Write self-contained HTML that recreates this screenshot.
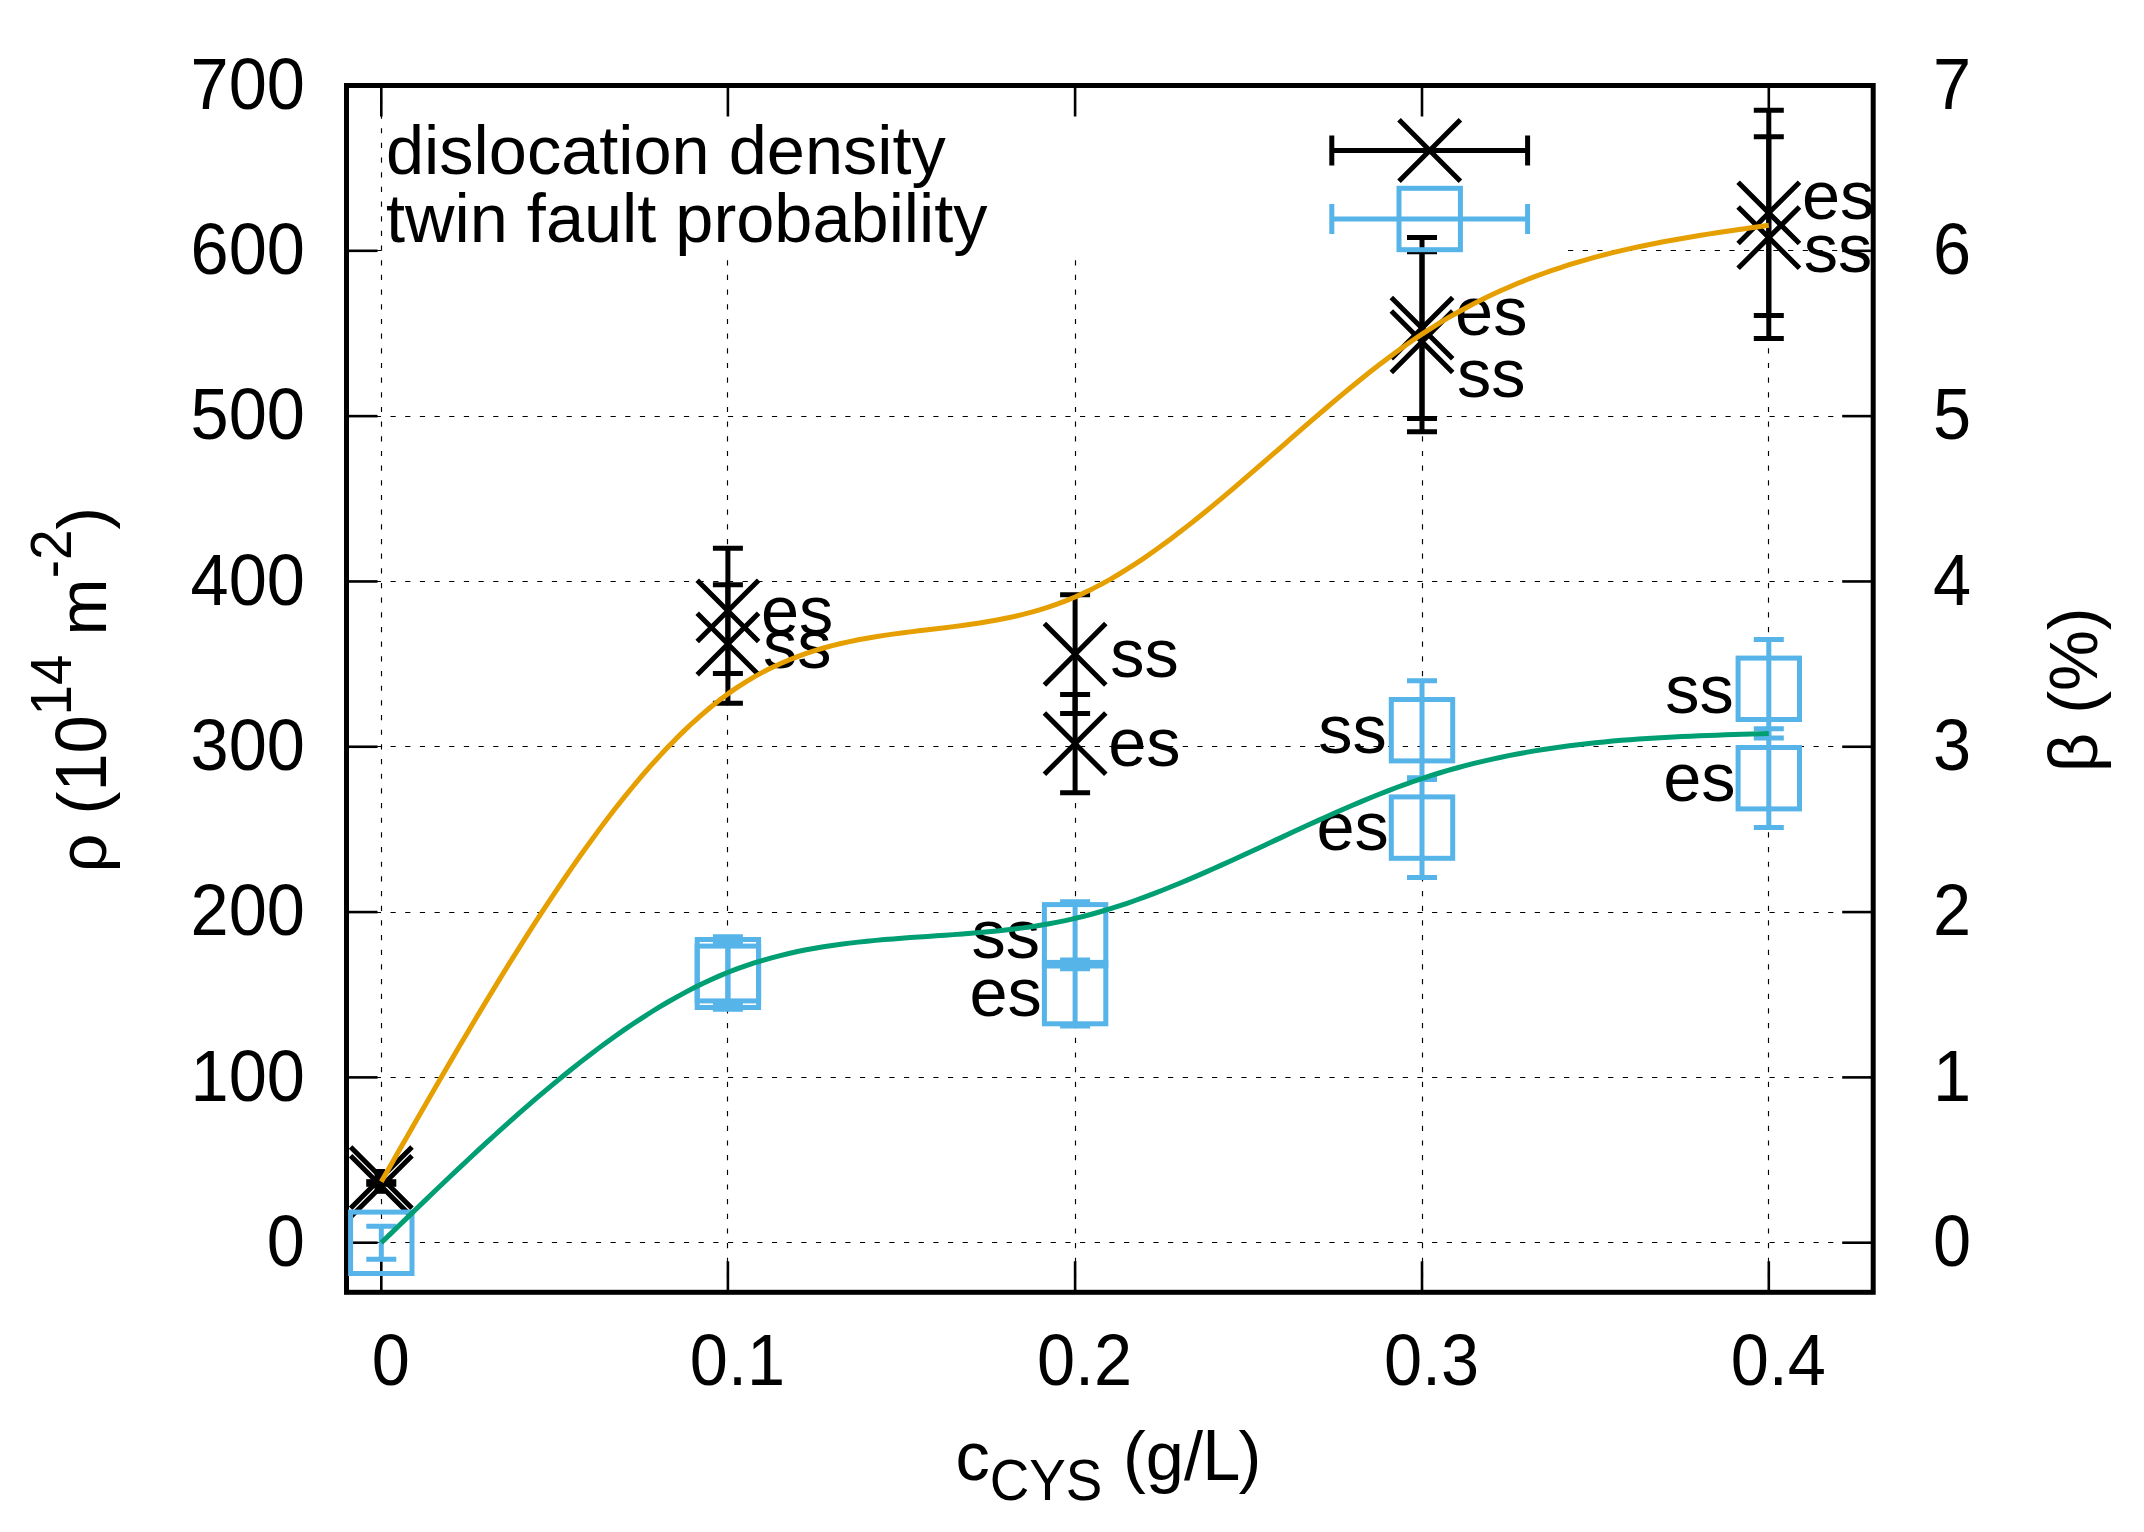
<!DOCTYPE html>
<html><head><meta charset="utf-8"><title>plot</title>
<style>html,body{margin:0;padding:0;background:#fff;}svg{display:block;}</style>
</head><body>
<svg width="2144" height="1532" viewBox="0 0 2144 1532" font-family='"Liberation Sans", "DejaVu Sans", sans-serif' font-size="68.5" fill="#000">
<rect x="0" y="0" width="2144" height="1532" fill="#fff"/>
<defs><clipPath id="pc"><rect x="346.5" y="85.5" width="1526.7" height="1206.8"/></clipPath></defs>
<g stroke="#000" stroke-width="1.15" stroke-dasharray="5.2 9.47" fill="none"><line x1="346.5" y1="1242.5" x2="1873.2" y2="1242.5"/><line x1="346.5" y1="1077.5" x2="1873.2" y2="1077.5"/><line x1="346.5" y1="912.5" x2="1873.2" y2="912.5"/><line x1="346.5" y1="746.5" x2="1873.2" y2="746.5"/><line x1="346.5" y1="581.5" x2="1873.2" y2="581.5"/><line x1="346.5" y1="416.5" x2="1873.2" y2="416.5"/><line x1="346.5" y1="250.5" x2="382" y2="250.5"/><line x1="1568" y1="250.5" x2="1873.2" y2="250.5"/><line x1="381.5" y1="1292.3" x2="381.5" y2="85.5"/><line x1="727.5" y1="1292.3" x2="727.5" y2="256"/><line x1="1075.5" y1="1292.3" x2="1075.5" y2="256"/><line x1="1422.5" y1="1292.3" x2="1422.5" y2="256"/><line x1="1768.5" y1="1292.3" x2="1768.5" y2="256"/></g>
<g stroke="#000" stroke-width="2.6"><line x1="346.5" y1="1242.71" x2="377.5" y2="1242.71"/><line x1="1873.2" y1="1242.71" x2="1842.2" y2="1242.71"/><line x1="346.5" y1="1077.39" x2="377.5" y2="1077.39"/><line x1="1873.2" y1="1077.39" x2="1842.2" y2="1077.39"/><line x1="346.5" y1="912.08" x2="377.5" y2="912.08"/><line x1="1873.2" y1="912.08" x2="1842.2" y2="912.08"/><line x1="346.5" y1="746.76" x2="377.5" y2="746.76"/><line x1="1873.2" y1="746.76" x2="1842.2" y2="746.76"/><line x1="346.5" y1="581.45" x2="377.5" y2="581.45"/><line x1="1873.2" y1="581.45" x2="1842.2" y2="581.45"/><line x1="346.5" y1="416.13" x2="377.5" y2="416.13"/><line x1="1873.2" y1="416.13" x2="1842.2" y2="416.13"/><line x1="346.5" y1="250.82" x2="377.5" y2="250.82"/><line x1="1873.2" y1="250.82" x2="1842.2" y2="250.82"/><line x1="346.5" y1="85.50" x2="377.5" y2="85.50"/><line x1="1873.2" y1="85.50" x2="1842.2" y2="85.50"/><line x1="381.30" y1="1292.3" x2="381.30" y2="1261.3"/><line x1="381.30" y1="85.5" x2="381.30" y2="116.5"/><line x1="727.90" y1="1292.3" x2="727.90" y2="1261.3"/><line x1="727.90" y1="85.5" x2="727.90" y2="116.5"/><line x1="1075.10" y1="1292.3" x2="1075.10" y2="1261.3"/><line x1="1075.10" y1="85.5" x2="1075.10" y2="116.5"/><line x1="1422.00" y1="1292.3" x2="1422.00" y2="1261.3"/><line x1="1422.00" y1="85.5" x2="1422.00" y2="116.5"/><line x1="1768.80" y1="1292.3" x2="1768.80" y2="1261.3"/><line x1="1768.80" y1="85.5" x2="1768.80" y2="116.5"/></g>
<rect x="346.5" y="85.5" width="1526.7" height="1206.8" fill="none" stroke="#000" stroke-width="5.0"/>
<text transform="translate(304.9,1265.91) scale(1,1.05)" text-anchor="end">0</text>
<text transform="translate(1933.1,1265.91) scale(1,1.05)">0</text>
<text transform="translate(304.9,1100.59) scale(1,1.05)" text-anchor="end">100</text>
<text transform="translate(1933.1,1100.59) scale(1,1.05)">1</text>
<text transform="translate(304.9,935.28) scale(1,1.05)" text-anchor="end">200</text>
<text transform="translate(1933.1,935.28) scale(1,1.05)">2</text>
<text transform="translate(304.9,769.96) scale(1,1.05)" text-anchor="end">300</text>
<text transform="translate(1933.1,769.96) scale(1,1.05)">3</text>
<text transform="translate(304.9,604.65) scale(1,1.05)" text-anchor="end">400</text>
<text transform="translate(1933.1,604.65) scale(1,1.05)">4</text>
<text transform="translate(304.9,439.33) scale(1,1.05)" text-anchor="end">500</text>
<text transform="translate(1933.1,439.33) scale(1,1.05)">5</text>
<text transform="translate(304.9,274.02) scale(1,1.05)" text-anchor="end">600</text>
<text transform="translate(1933.1,274.02) scale(1,1.05)">6</text>
<text transform="translate(304.9,108.70) scale(1,1.05)" text-anchor="end">700</text>
<text transform="translate(1933.1,108.70) scale(1,1.05)">7</text>
<text transform="translate(390.80,1385.0) scale(1,1.05)" text-anchor="middle">0</text>
<text transform="translate(737.40,1385.0) scale(1,1.05)" text-anchor="middle">0.1</text>
<text transform="translate(1084.60,1385.0) scale(1,1.05)" text-anchor="middle">0.2</text>
<text transform="translate(1431.50,1385.0) scale(1,1.05)" text-anchor="middle">0.3</text>
<text transform="translate(1778.30,1385.0) scale(1,1.05)" text-anchor="middle">0.4</text>
<text x="955.50" y="1480.30">c</text>
<text transform="translate(989.75,1500.00) scale(1,1.05)" font-size="54.80">CYS</text>
<text x="1123.00" y="1480.30">(g/</text>
<text transform="translate(1202.30,1480.30) scale(1,1.055)">L</text>
<text x="1238.50" y="1480.30">)</text>
<g transform="translate(106.2,689.6) rotate(-90)">
<text x="-182.80" y="0.00">ρ (</text>
<text transform="translate(-101.99,0.00) scale(1,1.05)">10</text>
<text transform="translate(-25.79,-35.10) scale(1,1.05)" font-size="54.80">14</text>
<text x="54.21" y="0.00">m</text>
<text transform="translate(111.25,-35.10) scale(1,1.05)" font-size="54.80">-2</text>
<text x="159.98" y="0.00">)</text>
</g>
<text transform="translate(2096.5,689.8) rotate(-90)" text-anchor="middle">β (%)</text>
<g clip-path="url(#pc)">
<g stroke="#000" stroke-width="5.0" fill="none"><path d="M727.90 548.20L727.90 673.60M712.90 548.20L742.90 548.20M712.90 673.60L742.90 673.60"/><path d="M727.90 584.70L727.90 703.30M712.90 584.70L742.90 584.70M712.90 703.30L742.90 703.30"/><path d="M1075.10 594.80L1075.10 713.60M1060.10 594.80L1090.10 594.80M1060.10 713.60L1090.10 713.60"/><path d="M1075.10 694.40L1075.10 792.80M1060.10 694.40L1090.10 694.40M1060.10 792.80L1090.10 792.80"/><path d="M1422.00 237.60L1422.00 418.60M1407.00 237.60L1437.00 237.60M1407.00 418.60L1437.00 418.60"/><path d="M1422.00 251.80L1422.00 431.80M1407.00 251.80L1437.00 251.80M1407.00 431.80L1437.00 431.80"/><path d="M1768.80 110.30L1768.80 315.50M1753.80 110.30L1783.80 110.30M1753.80 315.50L1783.80 315.50"/><path d="M1768.80 136.70L1768.80 338.50M1753.80 136.70L1783.80 136.70M1753.80 338.50L1783.80 338.50"/><path d="M350.60 1146.90L412.00 1208.30M350.60 1208.30L412.00 1146.90"/><path d="M350.60 1155.70L412.00 1217.10M350.60 1217.10L412.00 1155.70"/><path d="M697.20 580.20L758.60 641.60M697.20 641.60L758.60 580.20"/><path d="M697.20 613.30L758.60 674.70M697.20 674.70L758.60 613.30"/><path d="M1044.40 623.50L1105.80 684.90M1044.40 684.90L1105.80 623.50"/><path d="M1044.40 712.90L1105.80 774.30M1044.40 774.30L1105.80 712.90"/><path d="M1391.30 297.40L1452.70 358.80M1391.30 358.80L1452.70 297.40"/><path d="M1391.30 311.10L1452.70 372.50M1391.30 372.50L1452.70 311.10"/><path d="M1738.10 182.20L1799.50 243.60M1738.10 243.60L1799.50 182.20"/><path d="M1738.10 206.90L1799.50 268.30M1738.10 268.30L1799.50 206.90"/><path d="M1331.80 150.50L1527.60 150.50M1331.80 135.50L1331.80 165.50M1527.60 135.50L1527.60 165.50"/><path d="M1399.00 119.80L1460.40 181.20M1399.00 181.20L1460.40 119.80"/></g>
<rect x="374.5" y="1169" width="10.5" height="24.8" fill="#000"/><rect x="366.2" y="1179.2" width="30.1" height="7.6" fill="#000"/>
<text x="797.20" y="633.5" text-anchor="middle">es</text>
<text x="797.20" y="668.1" text-anchor="middle">ss</text>
<text x="1144.40" y="676.5" text-anchor="middle">ss</text>
<text x="1144.40" y="765.6" text-anchor="middle">es</text>
<text x="1491.30" y="335.3" text-anchor="middle">es</text>
<text x="1491.30" y="397.2" text-anchor="middle">ss</text>
<text x="1838.10" y="218.9" text-anchor="middle">es</text>
<text x="1838.10" y="271.8" text-anchor="middle">ss</text>
<path d="M381.30 1181.70L389.97 1166.51L398.64 1151.33L407.32 1136.18L415.99 1121.06L424.66 1105.98L433.33 1090.96L442.00 1076.01L450.68 1061.13L459.35 1046.35L468.02 1031.66L476.69 1017.09L485.36 1002.64L494.03 988.33L502.71 974.16L511.38 960.15L520.05 946.30L528.72 932.64L537.39 919.16L546.07 905.89L554.74 892.83L563.41 880.00L572.08 867.40L580.75 855.05L589.42 842.95L598.10 831.13L606.77 819.58L615.44 808.33L624.11 797.38L632.78 786.74L641.46 776.43L650.13 766.45L658.80 756.82L667.47 747.55L676.14 738.65L684.82 730.14L693.49 722.01L702.16 714.29L710.83 706.98L719.50 700.10L728.17 693.65L736.85 687.65L745.52 682.08L754.19 676.91L762.86 672.14L771.53 667.73L780.21 663.68L788.88 659.96L797.55 656.55L806.22 653.43L814.89 650.59L823.57 648.00L832.24 645.65L840.91 643.51L849.58 641.57L858.25 639.81L866.92 638.21L875.60 636.74L884.27 635.40L892.94 634.15L901.61 632.99L910.28 631.88L918.96 630.82L927.63 629.79L936.30 628.75L944.97 627.71L953.64 626.62L962.32 625.49L970.99 624.28L979.66 622.97L988.33 621.56L997.00 620.01L1005.67 618.32L1014.35 616.45L1023.02 614.40L1031.69 612.13L1040.36 609.64L1049.03 606.91L1057.71 603.90L1066.38 600.62L1075.05 597.02L1083.72 593.11L1092.39 588.89L1101.07 584.37L1109.74 579.57L1118.41 574.50L1127.08 569.17L1135.75 563.60L1144.42 557.80L1153.10 551.79L1161.77 545.58L1170.44 539.18L1179.11 532.61L1187.78 525.88L1196.46 519.01L1205.13 512.00L1213.80 504.87L1222.47 497.64L1231.14 490.32L1239.82 482.93L1248.49 475.47L1257.16 467.96L1265.83 460.41L1274.50 452.84L1283.17 445.27L1291.85 437.70L1300.52 430.15L1309.19 422.63L1317.86 415.16L1326.53 407.75L1335.21 400.41L1343.88 393.16L1352.55 386.01L1361.22 378.98L1369.89 372.08L1378.57 365.32L1387.24 358.72L1395.91 352.29L1404.58 346.04L1413.25 339.99L1421.92 334.15L1430.60 328.53L1439.27 323.14L1447.94 317.95L1456.61 312.98L1465.28 308.21L1473.96 303.64L1482.63 299.26L1491.30 295.06L1499.97 291.04L1508.64 287.20L1517.32 283.53L1525.99 280.03L1534.66 276.68L1543.33 273.48L1552.00 270.43L1560.67 267.52L1569.35 264.74L1578.02 262.10L1586.69 259.58L1595.36 257.17L1604.03 254.88L1612.71 252.70L1621.38 250.62L1630.05 248.63L1638.72 246.74L1647.39 244.93L1656.07 243.20L1664.74 241.54L1673.41 239.95L1682.08 238.42L1690.75 236.95L1699.42 235.52L1708.10 234.15L1716.77 232.81L1725.44 231.51L1734.11 230.23L1742.78 228.98L1751.46 227.74L1760.13 226.52L1768.80 225.30" fill="none" stroke="#E69F00" stroke-width="5.0" stroke-linejoin="round"/>
<g stroke="#56B4E9" stroke-width="5.0" fill="none"><path d="M381.30 1226.30L381.30 1259.30M366.30 1226.30L396.30 1226.30M366.30 1259.30L396.30 1259.30"/><path d="M727.90 936.80L727.90 1003.60M712.90 936.80L742.90 936.80M712.90 1003.60L742.90 1003.60"/><path d="M727.90 944.40L727.90 1009.20M712.90 944.40L742.90 944.40M712.90 1009.20L742.90 1009.20"/><path d="M1075.10 901.80L1075.10 968.80M1060.10 901.80L1090.10 901.80M1060.10 968.80L1090.10 968.80"/><path d="M1075.10 960.10L1075.10 1026.10M1060.10 960.10L1090.10 960.10M1060.10 1026.10L1090.10 1026.10"/><path d="M1422.00 680.80L1422.00 779.60M1407.00 680.80L1437.00 680.80M1407.00 779.60L1437.00 779.60"/><path d="M1422.00 777.80L1422.00 877.40M1407.00 777.80L1437.00 777.80M1407.00 877.40L1437.00 877.40"/><path d="M1768.80 639.60L1768.80 738.00M1753.80 639.60L1783.80 639.60M1753.80 738.00L1783.80 738.00"/><path d="M1768.80 728.80L1768.80 827.60M1753.80 728.80L1783.80 728.80M1753.80 827.60L1783.80 827.60"/><rect x="350.60" y="1212.10" width="61.40" height="61.40"/><rect x="697.20" y="939.50" width="61.40" height="61.40"/><rect x="697.20" y="946.10" width="61.40" height="61.40"/><rect x="1044.40" y="904.60" width="61.40" height="61.40"/><rect x="1044.40" y="962.40" width="61.40" height="61.40"/><rect x="1391.30" y="699.50" width="61.40" height="61.40"/><rect x="1391.30" y="796.90" width="61.40" height="61.40"/><rect x="1738.10" y="658.10" width="61.40" height="61.40"/><rect x="1738.10" y="747.50" width="61.40" height="61.40"/><path d="M1331.80 219.00L1527.60 219.00M1331.80 204.00L1331.80 234.00M1527.60 204.00L1527.60 234.00"/><rect x="1399.00" y="188.30" width="61.40" height="61.40"/></g>
<text x="1005.70" y="957.8" text-anchor="middle">ss</text>
<text x="1005.70" y="1015.7" text-anchor="middle">es</text>
<text x="1352.60" y="753.4" text-anchor="middle">ss</text>
<text x="1352.60" y="849.7" text-anchor="middle">es</text>
<text x="1699.40" y="712.6" text-anchor="middle">ss</text>
<text x="1699.40" y="801.1" text-anchor="middle">es</text>
<path d="M381.30 1242.80L389.97 1234.39L398.64 1225.99L407.32 1217.60L415.99 1209.22L424.66 1200.87L433.33 1192.56L442.00 1184.28L450.68 1176.04L459.35 1167.85L468.02 1159.72L476.69 1151.65L485.36 1143.65L494.03 1135.72L502.71 1127.87L511.38 1120.11L520.05 1112.44L528.72 1104.88L537.39 1097.41L546.07 1090.06L554.74 1082.82L563.41 1075.71L572.08 1068.73L580.75 1061.88L589.42 1055.18L598.10 1048.62L606.77 1042.22L615.44 1035.98L624.11 1029.91L632.78 1024.01L641.46 1018.29L650.13 1012.75L658.80 1007.40L667.47 1002.26L676.14 997.32L684.82 992.58L693.49 988.07L702.16 983.77L710.83 979.71L719.50 975.88L728.17 972.29L736.85 968.95L745.52 965.84L754.19 962.95L762.86 960.29L771.53 957.82L780.21 955.55L788.88 953.47L797.55 951.55L806.22 949.80L814.89 948.20L823.57 946.74L832.24 945.42L840.91 944.21L849.58 943.11L858.25 942.11L866.92 941.20L875.60 940.37L884.27 939.60L892.94 938.89L901.61 938.23L910.28 937.60L918.96 937.00L927.63 936.41L936.30 935.83L944.97 935.24L953.64 934.63L962.32 933.99L970.99 933.32L979.66 932.60L988.33 931.82L997.00 930.97L1005.67 930.03L1014.35 929.01L1023.02 927.88L1031.69 926.65L1040.36 925.29L1049.03 923.80L1057.71 922.16L1066.38 920.37L1075.05 918.41L1083.72 916.28L1092.39 913.99L1101.07 911.53L1109.74 908.92L1118.41 906.17L1127.08 903.28L1135.75 900.26L1144.42 897.12L1153.10 893.86L1161.77 890.50L1170.44 887.04L1179.11 883.49L1187.78 879.85L1196.46 876.14L1205.13 872.37L1213.80 868.53L1222.47 864.64L1231.14 860.71L1239.82 856.74L1248.49 852.74L1257.16 848.72L1265.83 844.68L1274.50 840.64L1283.17 836.61L1291.85 832.58L1300.52 828.56L1309.19 824.58L1317.86 820.62L1326.53 816.71L1335.21 812.84L1343.88 809.03L1352.55 805.29L1361.22 801.61L1369.89 798.02L1378.57 794.51L1387.24 791.09L1395.91 787.78L1404.58 784.57L1413.25 781.49L1421.92 778.53L1430.60 775.69L1439.27 772.99L1447.94 770.42L1456.61 767.97L1465.28 765.64L1473.96 763.42L1482.63 761.32L1491.30 759.33L1499.97 757.44L1508.64 755.66L1517.32 753.98L1525.99 752.39L1534.66 750.90L1543.33 749.49L1552.00 748.17L1560.67 746.94L1569.35 745.78L1578.02 744.71L1586.69 743.70L1595.36 742.77L1604.03 741.90L1612.71 741.09L1621.38 740.35L1630.05 739.66L1638.72 739.02L1647.39 738.43L1656.07 737.89L1664.74 737.40L1673.41 736.94L1682.08 736.52L1690.75 736.13L1699.42 735.78L1708.10 735.45L1716.77 735.14L1725.44 734.85L1734.11 734.58L1742.78 734.32L1751.46 734.08L1760.13 733.84L1768.80 733.60" fill="none" stroke="#009E73" stroke-width="5.0" stroke-linejoin="round"/>
</g>
<text x="386" y="173.5">dislocation density</text>
<text x="386" y="242.3">twin fault probability</text>
</svg>
</body></html>
